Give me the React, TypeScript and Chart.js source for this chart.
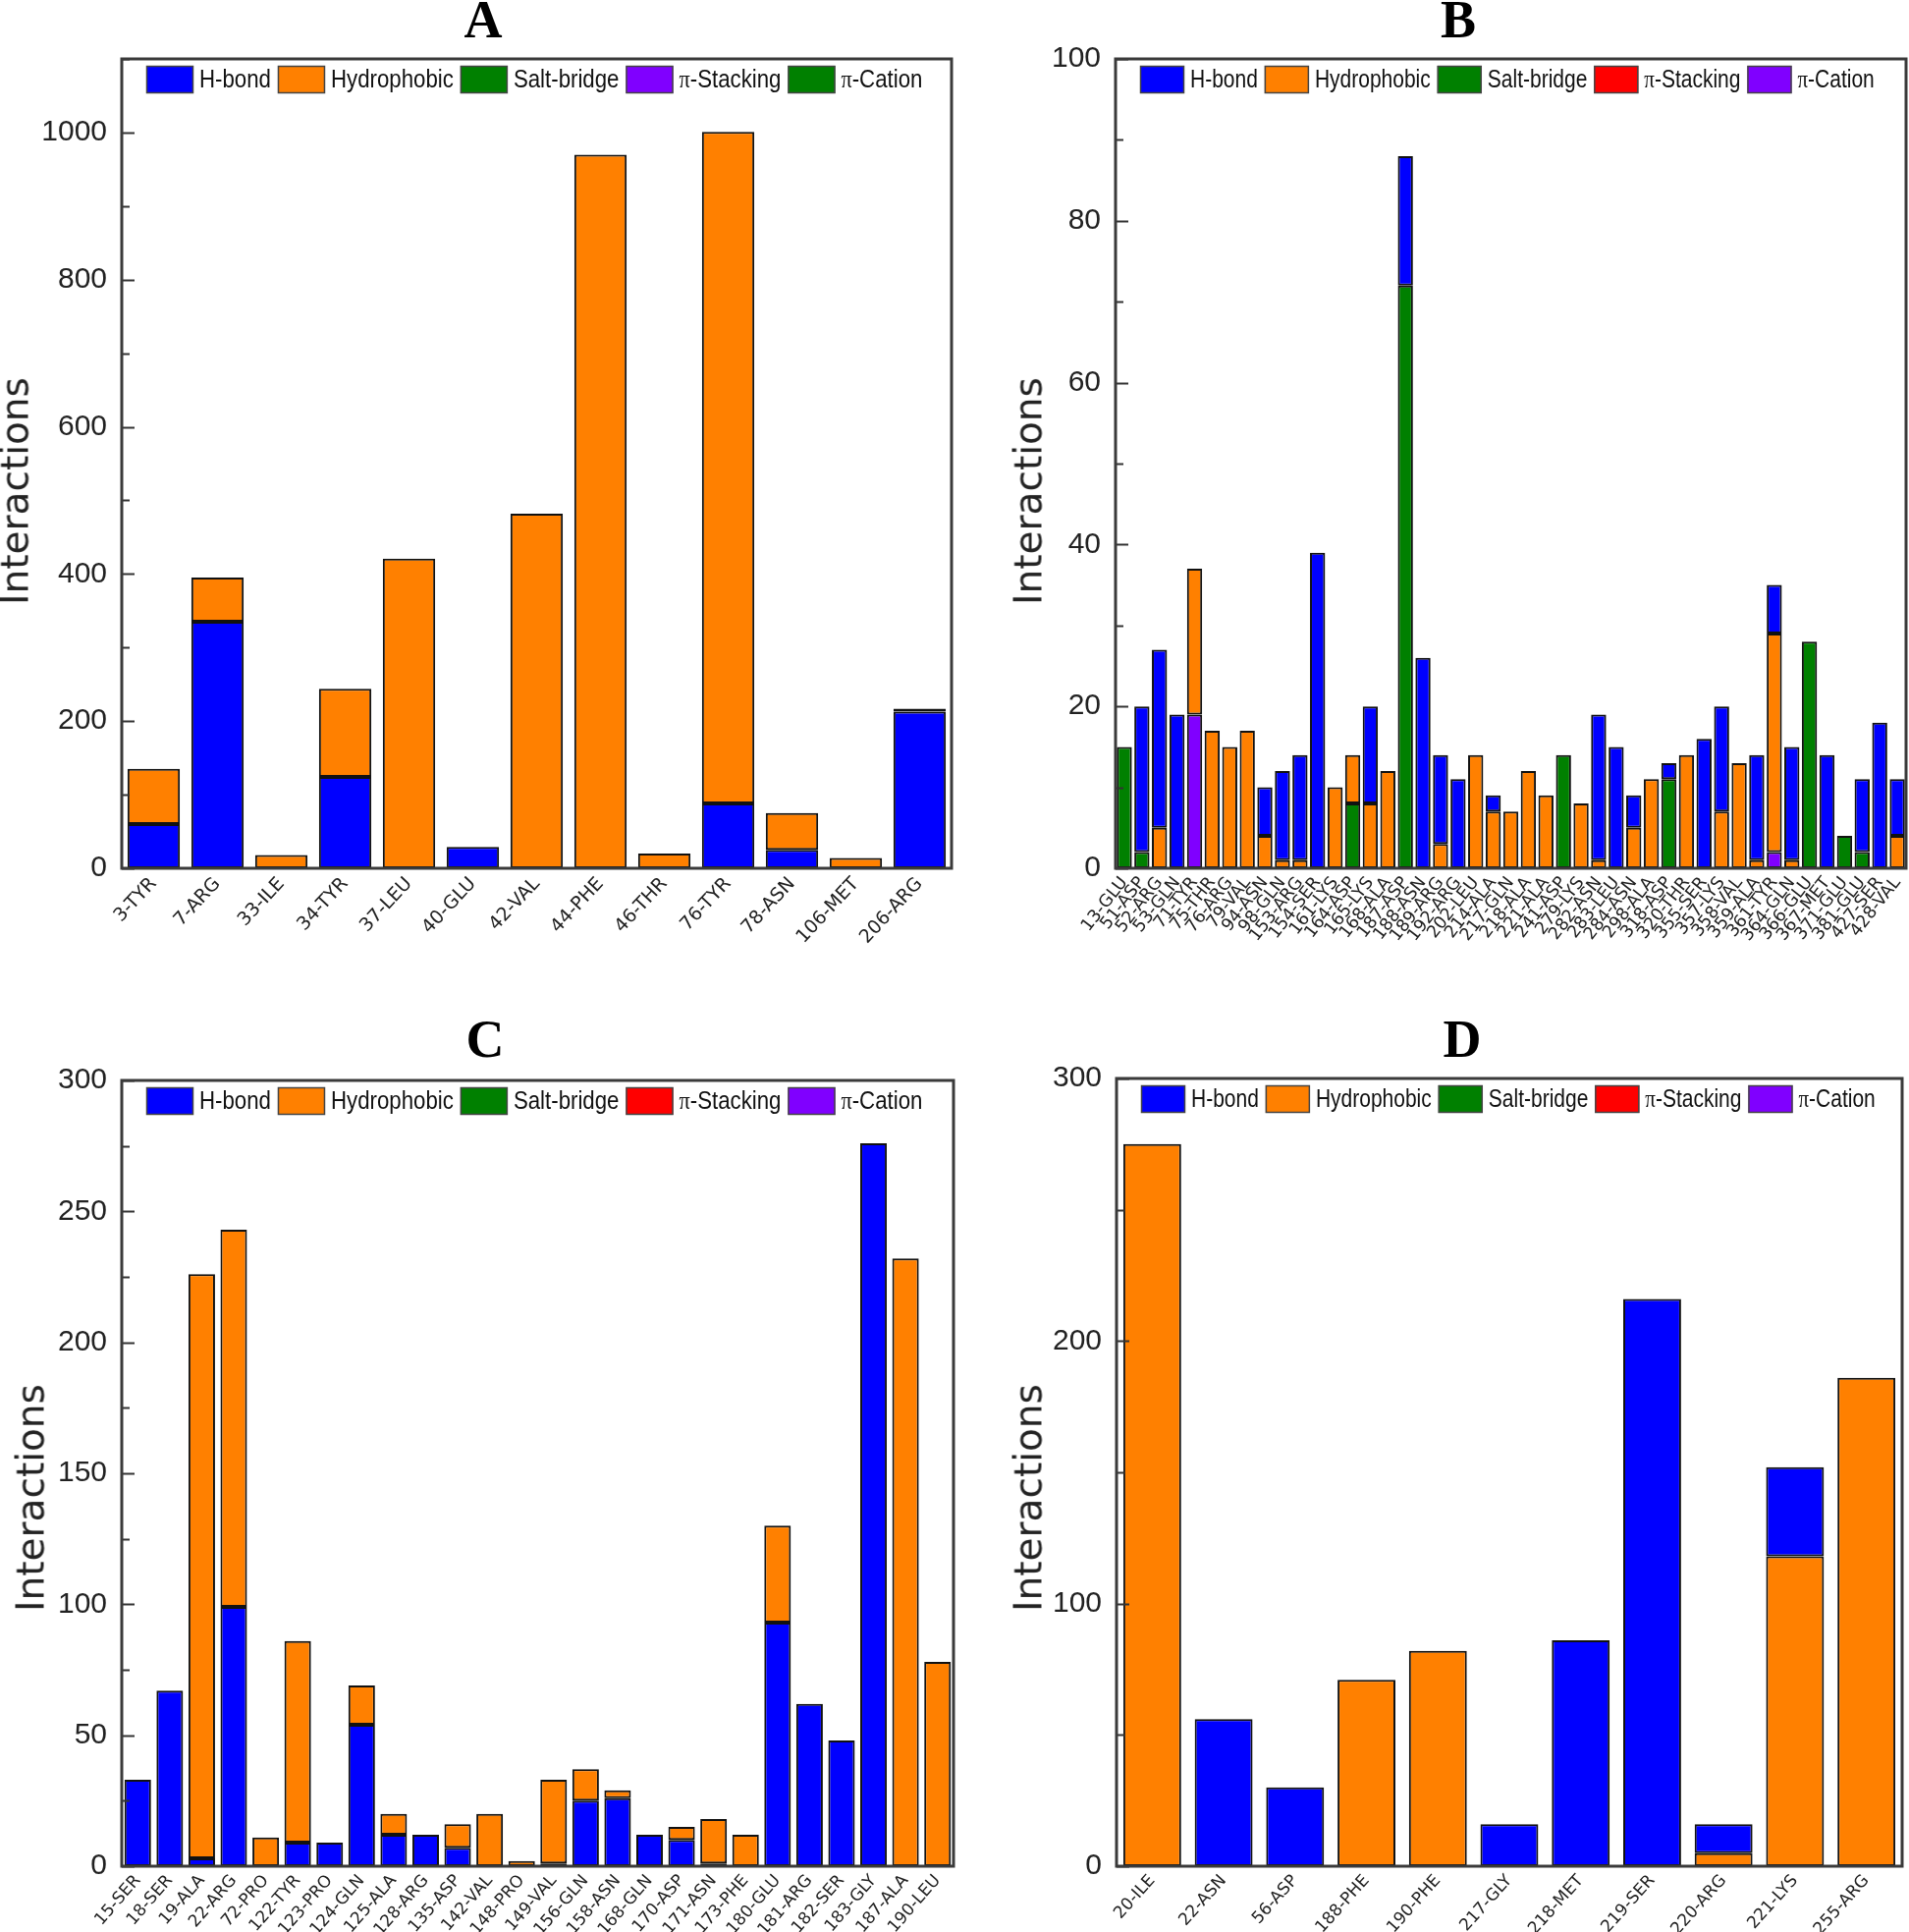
import React, { useEffect, useRef } from "react";
import { Chart, registerables } from "chart.js";
Chart.register(...registerables);

const BLUE = "#0000FF";
const ORANGE = "#FF8000";
const GREEN = "#008000";
const RED = "#FF0000";
const PURPLE = "#8000FF";

// ---------- Panel A ----------
const A_LABELS = ["3-TYR", "7-ARG", "33-ILE", "34-TYR", "37-LEU", "40-GLU", "42-VAL", "44-PHE", "46-THR", "76-TYR", "78-ASN", "106-MET", "206-ARG"];
const A_HBOND = [60, 335, 0, 124, 0, 29, 0, 0, 0, 88, 25, 0, 213];
const A_HYDRO = [75, 60, 18, 120, 421, 0, 482, 970, 20, 913, 50, 14, 4];
const A_SALT = [0, 0, 0, 0, 0, 0, 0, 0, 0, 0, 0, 0, 0];
const A_PISTACK = [0, 0, 0, 0, 0, 0, 0, 0, 0, 0, 0, 0, 0];
const A_PICATION = [0, 0, 0, 0, 0, 0, 0, 0, 0, 0, 0, 0, 0];

// ---------- Panel B ----------
const B_LABELS = ["13-GLU", "51-ASP", "52-ARG", "53-GLN", "71-TYR", "75-THR", "76-ARG", "79-VAL", "94-ASN", "98-GLN", "153-ARG", "154-SER", "161-LYS", "164-ASP", "165-LYS", "168-ALA", "187-ASP", "188-ASN", "189-ARG", "192-ARG", "202-LEU", "214-ALA", "217-GLN", "218-ALA", "221-ALA", "241-ASP", "279-LYS", "282-ASN", "283-LEU", "284-ASN", "298-ALA", "318-ASP", "320-THR", "355-SER", "357-LYS", "358-VAL", "359-ALA", "361-TYR", "364-GLN", "366-GLU", "367-MET", "371-GLU", "381-GLU", "427-SER", "428-VAL"];
const B_HBOND = [0, 18, 22, 19, 0, 0, 0, 0, 6, 11, 13, 39, 0, 0, 12, 0, 16, 26, 11, 11, 0, 2, 0, 0, 0, 0, 0, 18, 15, 4, 0, 2, 0, 16, 13, 0, 13, 6, 14, 0, 14, 0, 9, 18, 7];
const B_HYDRO = [0, 0, 5, 0, 18, 17, 15, 17, 4, 1, 1, 0, 10, 6, 8, 12, 0, 0, 3, 0, 14, 7, 7, 12, 9, 0, 8, 1, 0, 5, 11, 0, 14, 0, 7, 13, 1, 27, 1, 0, 0, 0, 0, 0, 4];
const B_SALT = [15, 2, 0, 0, 0, 0, 0, 0, 0, 0, 0, 0, 0, 8, 0, 0, 72, 0, 0, 0, 0, 0, 0, 0, 0, 14, 0, 0, 0, 0, 0, 11, 0, 0, 0, 0, 0, 0, 0, 28, 0, 4, 2, 0, 0];
const B_PISTACK = [0, 0, 0, 0, 0, 0, 0, 0, 0, 0, 0, 0, 0, 0, 0, 0, 0, 0, 0, 0, 0, 0, 0, 0, 0, 0, 0, 0, 0, 0, 0, 0, 0, 0, 0, 0, 0, 0, 0, 0, 0, 0, 0, 0, 0];
const B_PICATION = [0, 0, 0, 0, 19, 0, 0, 0, 0, 0, 0, 0, 0, 0, 0, 0, 0, 0, 0, 0, 0, 0, 0, 0, 0, 0, 0, 0, 0, 0, 0, 0, 0, 0, 0, 0, 0, 2, 0, 0, 0, 0, 0, 0, 0];

// ---------- Panel C ----------
const C_LABELS = ["15-SER", "18-SER", "19-ALA", "22-ARG", "72-PRO", "122-TYR", "123-PRO", "124-GLN", "125-ALA", "128-ARG", "135-ASP", "142-VAL", "148-PRO", "149-VAL", "156-GLN", "158-ASN", "168-GLN", "170-ASP", "171-ASN", "173-PHE", "180-GLU", "181-ARG", "182-SER", "183-GLY", "187-ALA", "190-LEU"];
const C_HBOND = [33, 67, 3, 99, 0, 9, 9, 54, 12, 12, 7, 0, 0, 1, 25, 26, 12, 10, 1, 0, 93, 62, 48, 276, 0, 0];
const C_HYDRO = [0, 0, 223, 144, 11, 77, 0, 15, 8, 0, 9, 20, 2, 32, 12, 3, 0, 5, 17, 12, 37, 0, 0, 0, 232, 78];
const C_SALT = [0, 0, 0, 0, 0, 0, 0, 0, 0, 0, 0, 0, 0, 0, 0, 0, 0, 0, 0, 0, 0, 0, 0, 0, 0, 0];
const C_PISTACK = [0, 0, 0, 0, 0, 0, 0, 0, 0, 0, 0, 0, 0, 0, 0, 0, 0, 0, 0, 0, 0, 0, 0, 0, 0, 0];
const C_PICATION = [0, 0, 0, 0, 0, 0, 0, 0, 0, 0, 0, 0, 0, 0, 0, 0, 0, 0, 0, 0, 0, 0, 0, 0, 0, 0];

// ---------- Panel D ----------
const D_LABELS = ["20-ILE", "22-ASN", "56-ASP", "188-PHE", "190-PHE", "217-GLY", "218-MET", "219-SER", "220-ARG", "221-LYS", "255-ARG"];
const D_HBOND = [0, 56, 30, 0, 0, 16, 86, 216, 11, 34, 0];
const D_HYDRO = [275, 0, 0, 71, 82, 0, 0, 0, 5, 118, 186];
const D_SALT = [0, 0, 0, 0, 0, 0, 0, 0, 0, 0, 0];
const D_PISTACK = [0, 0, 0, 0, 0, 0, 0, 0, 0, 0, 0];
const D_PICATION = [0, 0, 0, 0, 0, 0, 0, 0, 0, 0, 0];

// Y axis tick settings per panel: [max, major, minor]
const A_YAXIS = [1100, 200, 100];
const B_YAXIS = [100, 20, 10];
const C_YAXIS = [300, 50, 25];
const D_YAXIS = [300, 100, 50];

type Series = { label: string; color: string; data: number[]; stackPos: number };

type PanelDef = {
  labels: string[];
  series: Series[]; // legend order
  yaxis: number[];
  includeBounds: boolean;
  canvas: { left: number; top: number; width: number; height: number };
  padT: number;
  padR: number;
  yW: number;
  xH: number;
  rot: number;
  xFont: number;
  barPct: number;
  legSx: number;
  legBox: number;
};

const PANELS: PanelDef[] = [
  {
    labels: A_LABELS,
    series: [
      { label: "H-bond", color: BLUE, data: A_HBOND, stackPos: 0 },
      { label: "Hydrophobic", color: ORANGE, data: A_HYDRO, stackPos: 1 },
      { label: "Salt-bridge", color: GREEN, data: A_SALT, stackPos: 2 },
      { label: "π-Stacking", color: PURPLE, data: A_PISTACK, stackPos: 3 },
      { label: "π-Cation", color: GREEN, data: A_PICATION, stackPos: 4 },
    ],
    yaxis: A_YAXIS,
    includeBounds: false,
    canvas: { left: 0, top: 20, width: 1000, height: 950 },
    padT: 40,
    padR: 31,
    yW: 124,
    xH: 86,
    rot: 47,
    xFont: 19,
    barPct: 0.82,
    legSx: 0.89,
    legBox: 48,
  },
  {
    labels: B_LABELS,
    series: [
      { label: "H-bond", color: BLUE, data: B_HBOND, stackPos: 4 },
      { label: "Hydrophobic", color: ORANGE, data: B_HYDRO, stackPos: 3 },
      { label: "Salt-bridge", color: GREEN, data: B_SALT, stackPos: 0 },
      { label: "π-Stacking", color: RED, data: B_PISTACK, stackPos: 2 },
      { label: "π-Cation", color: PURPLE, data: B_PICATION, stackPos: 1 },
    ],
    yaxis: B_YAXIS,
    includeBounds: true,
    canvas: { left: 1000, top: 20, width: 944, height: 950 },
    padT: 40,
    padR: 3,
    yW: 136,
    xH: 86,
    rot: 52,
    xFont: 17.5,
    barPct: 0.86,
    legSx: 0.84,
    legBox: 45,
  },
  {
    labels: C_LABELS,
    series: [
      { label: "H-bond", color: BLUE, data: C_HBOND, stackPos: 0 },
      { label: "Hydrophobic", color: ORANGE, data: C_HYDRO, stackPos: 1 },
      { label: "Salt-bridge", color: GREEN, data: C_SALT, stackPos: 2 },
      { label: "π-Stacking", color: RED, data: C_PISTACK, stackPos: 3 },
      { label: "π-Cation", color: PURPLE, data: C_PICATION, stackPos: 4 },
    ],
    yaxis: C_YAXIS,
    includeBounds: true,
    canvas: { left: 0, top: 1060, width: 1000, height: 907 },
    padT: 40,
    padR: 29,
    yW: 124,
    xH: 67,
    rot: 49,
    xFont: 17,
    barPct: 0.83,
    legSx: 0.89,
    legBox: 48,
  },
  {
    labels: D_LABELS,
    series: [
      { label: "H-bond", color: BLUE, data: D_HBOND, stackPos: 1 },
      { label: "Hydrophobic", color: ORANGE, data: D_HYDRO, stackPos: 0 },
      { label: "Salt-bridge", color: GREEN, data: D_SALT, stackPos: 2 },
      { label: "π-Stacking", color: RED, data: D_PISTACK, stackPos: 3 },
      { label: "π-Cation", color: PURPLE, data: D_PICATION, stackPos: 4 },
    ],
    yaxis: D_YAXIS,
    includeBounds: true,
    canvas: { left: 1000, top: 1060, width: 944, height: 907 },
    padT: 38,
    padR: 7,
    yW: 137,
    xH: 67,
    rot: 48,
    xFont: 17,
    barPct: 0.81,
    legSx: 0.84,
    legBox: 45,
  },
];

const TITLES = [
  { text: "A", x: 492, top: -7 },
  { text: "B", x: 1485, top: -7 },
  { text: "C", x: 494, top: 1031 },
  { text: "D", x: 1489, top: 1031 },
];

const YTITLES = [
  { x: 15, y: 500 },
  { x: 1047, y: 500 },
  { x: 31, y: 1525 },
  { x: 1047, y: 1525 },
];

function makePlugin(def: PanelDef) {
  const [max, major, minor] = def.yaxis;
  return {
    id: "frameLegend",
    afterDraw(chart: any) {
      const ctx: CanvasRenderingContext2D = chart.ctx;
      const a = chart.chartArea;
      const y = chart.scales.y;
      ctx.save();
      // inward tick marks
      ctx.strokeStyle = "#333";
      ctx.lineWidth = 2;
      const n = Math.round(max / minor);
      for (let i = 0; i <= n; i++) {
        const v = i * minor;
        const py = Math.round(y.getPixelForValue(v)) + 0.5;
        const len = v % major === 0 ? 13 : 8;
        ctx.beginPath();
        ctx.moveTo(a.left, py);
        ctx.lineTo(a.left + len, py);
        ctx.stroke();
      }
      // frame
      ctx.lineWidth = 3;
      ctx.strokeStyle = "#3a3a3a";
      ctx.strokeRect(a.left, a.top, a.right - a.left, a.bottom - a.top);

      // legend inside the plot area
      const sx = def.legSx;
      let x = a.left + 25;
      const boxTop = a.top + 7;
      const boxW = def.legBox;
      const boxH = 28;
      const cy = boxTop + boxH / 2 + 1;
      for (const s of def.series) {
        ctx.fillStyle = s.color;
        ctx.fillRect(x, boxTop, boxW, boxH);
        ctx.lineWidth = 1.5;
        ctx.strokeStyle = "#444";
        ctx.strokeRect(x + 0.5, boxTop + 0.5, boxW - 1, boxH - 1);
        x += boxW + 6;
        ctx.fillStyle = "#111";
        ctx.textBaseline = "middle";
        ctx.textAlign = "left";
        let txt = s.label;
        if (txt.startsWith("π")) {
          ctx.font = "25px 'Liberation Serif', serif";
          ctx.save();
          ctx.translate(x, cy);
          ctx.scale(sx, 1);
          ctx.fillText("π", 0, 0);
          ctx.restore();
          x += ctx.measureText("π").width * sx;
          txt = txt.slice(1);
        }
        ctx.font = "25px 'Liberation Sans', Arial, sans-serif";
        ctx.save();
        ctx.translate(x, cy);
        ctx.scale(sx, 1);
        ctx.fillText(txt, 0, 0);
        ctx.restore();
        x += ctx.measureText(txt).width * sx + 7;
      }
      ctx.restore();
    },
  };
}

function Panel({ def }: { def: PanelDef }) {
  const ref = useRef<HTMLCanvasElement | null>(null);
  useEffect(() => {
    if (!ref.current) return;
    const [max, major] = def.yaxis;
    const ordered = [...def.series].sort((p, q) => p.stackPos - q.stackPos);
    const chart = new Chart(ref.current, {
      type: "bar",
      data: {
        labels: def.labels,
        datasets: ordered.map((s) => ({
          label: s.label,
          data: s.data,
          backgroundColor: s.color,
          borderColor: "#111",
          borderWidth: 2,
          borderSkipped: false,
          barPercentage: def.barPct,
          categoryPercentage: 1,
          stack: "s",
        })),
      },
      options: {
        animation: false,
        responsive: false,
        devicePixelRatio: 1,
        layout: { padding: { left: 0, top: def.padT, right: def.padR, bottom: 0 } },
        plugins: {
          legend: { display: false },
          tooltip: { enabled: false },
          title: { display: false },
        },
        scales: {
          x: {
            stacked: true,
            grid: { display: false, drawTicks: false },
            border: { display: false },
            ticks: {
              autoSkip: false,
              maxRotation: def.rot,
              minRotation: def.rot,
              padding: 5,
              color: "#222",
              font: { family: "'DejaVu Sans', Verdana, sans-serif", size: def.xFont },
            },
            afterFit: (s: any) => {
              s.height = def.xH;
              s.paddingLeft = 0;
              s.paddingRight = 0;
              s.paddingTop = 0;
              s.paddingBottom = 0;
            },
          },
          y: {
            stacked: true,
            min: 0,
            max: max,
            grid: { display: false, drawTicks: false },
            border: { display: false },
            ticks: {
              stepSize: major,
              includeBounds: def.includeBounds,
              padding: 15,
              color: "#222",
              font: { family: "'Liberation Sans', Arial, sans-serif", size: 30 },
              callback: (v: any) => String(v),
            },
            afterFit: (s: any) => {
              s.width = def.yW;
              s.paddingLeft = 0;
              s.paddingRight = 0;
              s.paddingTop = 0;
              s.paddingBottom = 0;
            },
          },
        },
      },
      plugins: [makePlugin(def)],
    } as any);
    return () => chart.destroy();
  }, [def]);
  return (
    <canvas
      ref={ref}
      width={def.canvas.width}
      height={def.canvas.height}
      style={{
        position: "absolute",
        left: def.canvas.left,
        top: def.canvas.top,
        width: def.canvas.width,
        height: def.canvas.height,
      }}
    />
  );
}

export default function App() {
  return (
    <div
      style={{
        position: "absolute",
        left: 0,
        top: 0,
        width: 1944,
        height: 1967,
        background: "#fff",
        overflow: "hidden",
      }}
    >
      {PANELS.map((p, i) => (
        <Panel key={i} def={p} />
      ))}
      {TITLES.map((t, i) => (
        <div
          key={"t" + i}
          style={{
            position: "absolute",
            left: t.x,
            top: t.top,
            transform: "translateX(-50%)",
            font: "bold 54px 'Liberation Serif', 'Times New Roman', serif",
            lineHeight: 1,
            color: "#000",
          }}
        >
          {t.text}
        </div>
      ))}
      {YTITLES.map((t, i) => (
        <div
          key={"y" + i}
          style={{
            position: "absolute",
            left: t.x,
            top: t.y,
            transform: "translate(-50%, -50%) rotate(-90deg)",
            font: "39px 'DejaVu Sans', Verdana, sans-serif",
            lineHeight: 1,
            color: "#222",
            whiteSpace: "nowrap",
          }}
        >
          Interactions
        </div>
      ))}
    </div>
  );
}
